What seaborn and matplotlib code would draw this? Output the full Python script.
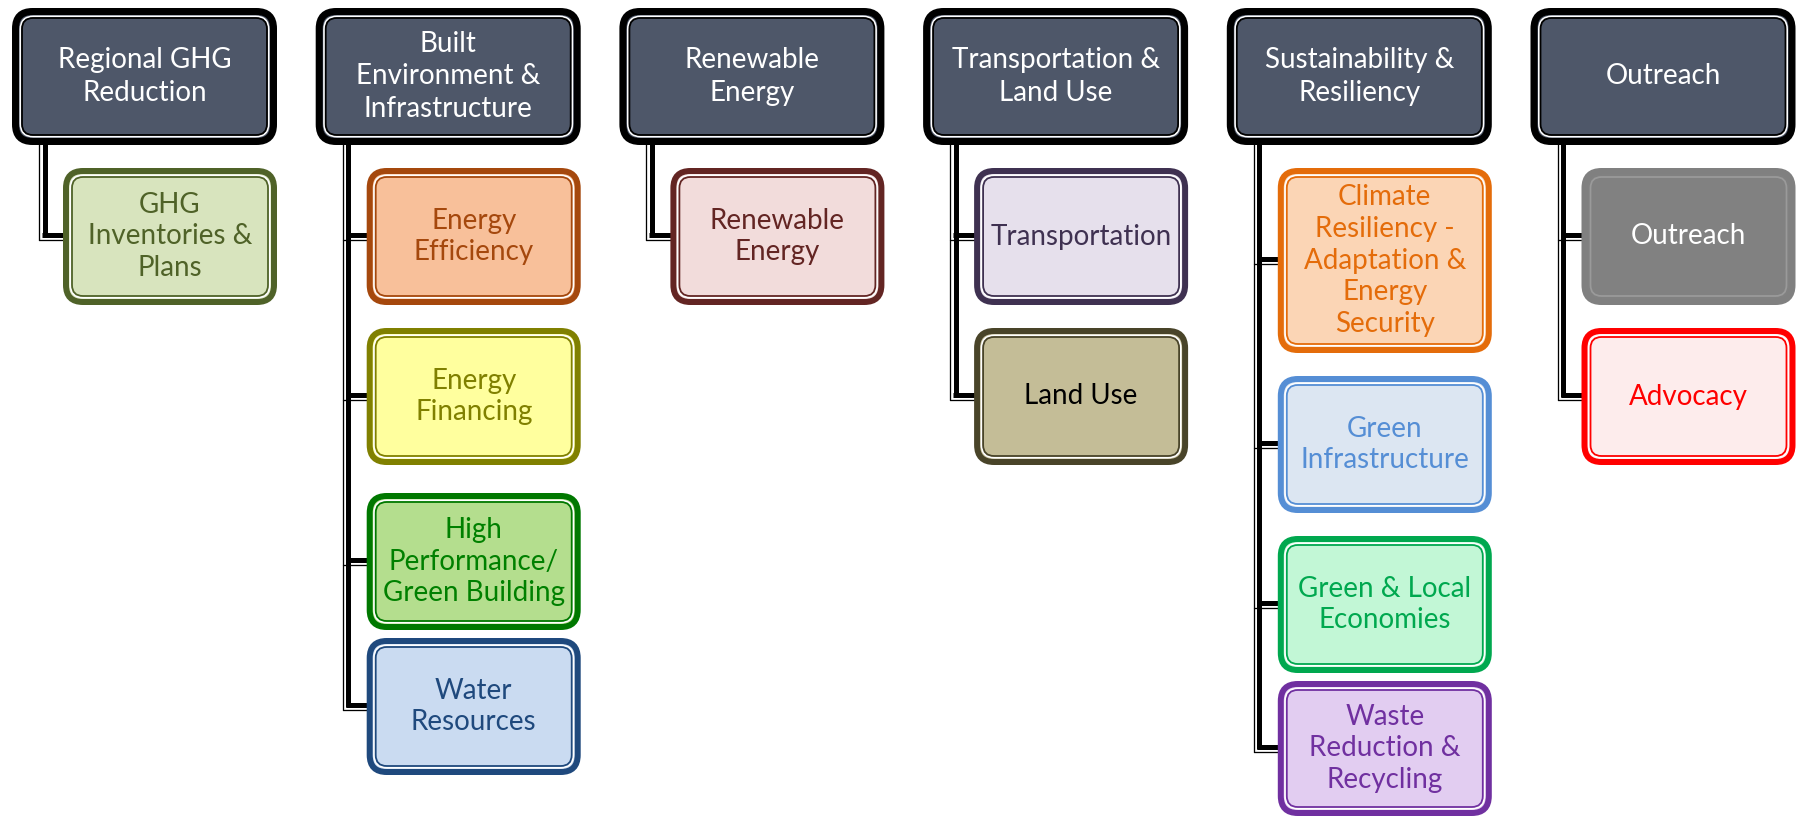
import matplotlib
matplotlib.use("Agg")
import matplotlib.pyplot as plt
from matplotlib.patches import FancyBboxPatch
import seaborn as sns

# ---------- DATA ----------
headers = [
    "Regional GHG\nReduction",
    "Built\nEnvironment &\nInfrastructure",
    "Renewable\nEnergy",
    "Transportation &\nLand Use",
    "Sustainability &\nResiliency",
    "Outreach",
]

children = [
    ["GHG\nInventories &\nPlans"],
    ["Energy\nEfficiency", "Energy\nFinancing", "High\nPerformance/\nGreen Building", "Water\nResources"],
    ["Renewable\nEnergy"],
    ["Transportation", "Land Use"],
    ["Climate\nResiliency -\nAdaptation &\nEnergy\nSecurity", "Green\nInfrastructure",
     "Green & Local\nEconomies", "Waste\nReduction &\nRecycling"],
    ["Outreach", "Advocacy"],
]

child_fill = [
    ["#D8E4BE"],
    ["#F8C09A", "#FFFF9E", "#B4DE8E", "#CADBF1"],
    ["#F2DCDB"],
    ["#E6E0EC", "#C4BD97"],
    ["#FBD5B5", "#DCE6F2", "#C2F7D6", "#E2CDF1"],
    ["#818181", "#FDECEC"],
]
child_edge = [
    ["#4F6228"],
    ["#A5480D", "#808000", "#007800", "#1F497D"],
    ["#632523"],
    ["#3F3151", "#494429"],
    ["#E46C0A", "#558ED5", "#00A84F", "#7030A0"],
    ["#808080", "#FF0000"],
]
child_text = [
    ["#4F6228"],
    ["#A5480D", "#808000", "#008000", "#1F497D"],
    ["#632523"],
    ["#3F3151", "#000000"],
    ["#E46C0A", "#558ED5", "#00A84F", "#7030A0"],
    ["#FFFFFF", "#FF0000"],
]

# ---------- LAYOUT (pixels) ----------
col_left = [12 + i * 303.7 for i in range(6)]
HEAD_TOP, HEAD_W, HEAD_H = 8, 265, 137
CHILD_DX, CHILD_W = 51, 214
child_top = [[168], [168, 328, 493, 638], [168], [168, 328],
             [168, 376, 536, 681], [168, 328]]
child_h = [[137], [137, 137, 137, 137], [137], [137, 137],
           [185, 137, 137, 135], [137, 137]]
PT = 0.72  # px -> pt at dpi 100

sns.set_theme(style="white")
plt.rcParams['font.family'] = ['Lato', 'DejaVu Sans']

fig = plt.figure(figsize=(18, 8.16), dpi=100)
ax = fig.add_axes([0, 0, 1, 1])
ax.set_xlim(0, 1800)
ax.set_ylim(816, 0)
ax.axis("off")


def box(x0, y0, w, h, fill, edge, inner, gap="white", r=17, lw=6):
    o = lw / 2
    ax.add_patch(FancyBboxPatch((x0 + o, y0 + o), w - 2 * o, h - 2 * o,
                                boxstyle=f"round,pad=0,rounding_size={r}",
                                fc=fill, ec=edge, lw=lw * PT, zorder=3))
    g = lw + 1.5
    ax.add_patch(FancyBboxPatch((x0 + g, y0 + g), w - 2 * g, h - 2 * g,
                                boxstyle=f"round,pad=0,rounding_size={r - 4}",
                                fc="none", ec=gap, lw=2 * PT, zorder=4))
    g = lw + 3
    ax.add_patch(FancyBboxPatch((x0 + g, y0 + g), w - 2 * g, h - 2 * g,
                                boxstyle=f"round,pad=0,rounding_size={r - 6}",
                                fc="none", ec=inner, lw=1.8 * PT, zorder=4))


for i, head in enumerate(headers):
    left = col_left[i]
    # connectors
    centers = [t + h / 2 for t, h in zip(child_top[i], child_h[i])]
    vx = left + 32.5
    ax.plot([vx, vx], [HEAD_TOP + HEAD_H - 5, centers[-1] + 0.5], color="black",
            lw=5 * PT, solid_capstyle="butt", zorder=1)
    ax.plot([left + 27, left + 27], [HEAD_TOP + HEAD_H - 5, centers[-1] + 3.5],
            color="black", lw=1.3 * PT, solid_capstyle="round", zorder=1)
    for c in centers:
        ax.plot([vx - 2.5, left + CHILD_DX + 4], [c - 2, c - 2], color="black",
                lw=5 * PT, solid_capstyle="butt", zorder=1)
        ax.plot([left + 27, left + CHILD_DX + 4], [c + 3.5, c + 3.5], color="black",
                lw=1.3 * PT, solid_capstyle="round", zorder=1)

    # header
    box(left, HEAD_TOP, HEAD_W, HEAD_H, "#4E5769", "black", "black", lw=7)
    ax.text(left + HEAD_W / 2, HEAD_TOP + HEAD_H / 2, head, color="white",
            ha="center", va="center", fontsize=20, linespacing=1.33, zorder=5)

    # children
    for j, lab in enumerate(children[i]):
        x0 = left + CHILD_DX
        y0 = child_top[i][j]
        h = child_h[i][j]
        grey = child_fill[i][j] == "#818181"
        inner = "#9A9A9A" if grey else child_edge[i][j]
        gap = child_fill[i][j] if grey else "white"
        box(x0, y0, CHILD_W, h, child_fill[i][j], child_edge[i][j], inner, gap=gap)
        ax.text(x0 + CHILD_W / 2, y0 + h / 2, lab, color=child_text[i][j],
                ha="center", va="center", fontsize=20, linespacing=1.27, zorder=5)

fig.savefig("out.png", dpi=100)
